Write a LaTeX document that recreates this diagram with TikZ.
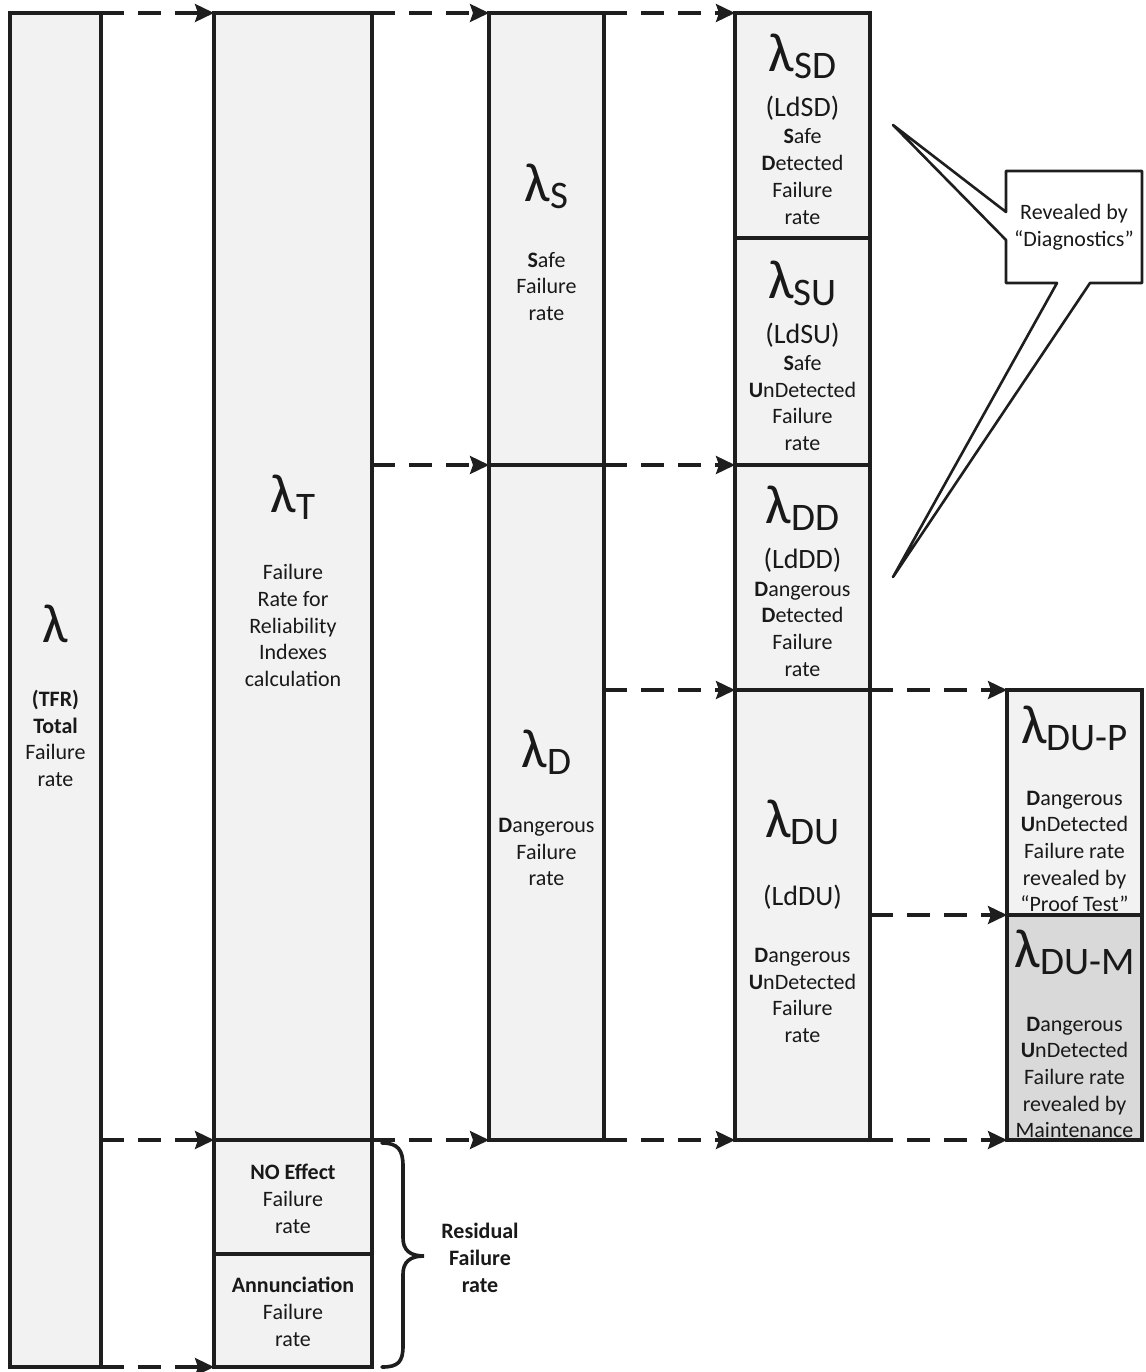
\documentclass[tikz,border=0pt]{standalone}
\usepackage{fontspec}
\setmainfont{Carlito}
\usetikzlibrary{arrows.meta}
\definecolor{linec}{RGB}{30,30,30}
\definecolor{boxfill}{RGB}{242,242,242}
\definecolor{darkfill}{RGB}{217,217,217}
\definecolor{txt}{RGB}{25,25,25}
\newcommand{\biglam}[1]{{\fontsize{55}{60}\selectfont λ}\raisebox{-7pt}{\fontsize{39}{40}\selectfont #1}}
\begin{document}
\begin{tikzpicture}[x=1pt,y=-1pt,
  box/.style={draw=linec, line width=3.2pt, fill=boxfill, rectangle, inner sep=0pt, outer sep=0pt, anchor=north west},
  lam/.style={text=txt, inner sep=0pt, anchor=base},
  body/.style={text=txt, inner sep=0pt, align=center, font=\fontsize{22}{26.7}\selectfont},
  ld/.style={text=txt, inner sep=0pt, font=\fontsize{28}{32}\selectfont},
  darr/.style={draw=linec, line width=3.2pt, dash pattern=on 23pt off 14pt, -{Stealth[length=19pt,width=18pt,inset=3pt]}},
]
\useasboundingbox (0,0) rectangle (1145,1372);
% boxes
\node[box, minimum width=91pt, minimum height=1354pt] (L) at (10,13) {};
\node[box, minimum width=158pt, minimum height=1127pt] (T) at (214,13) {};
\node[box, minimum width=158pt, minimum height=114pt] (NO) at (214,1140) {};
\node[box, minimum width=158pt, minimum height=113pt] (AN) at (214,1254) {};
\node[box, minimum width=115pt, minimum height=452pt] (S) at (489,13) {};
\node[box, minimum width=115pt, minimum height=675pt] (D) at (489,465) {};
\node[box, minimum width=135pt, minimum height=225pt] (SD) at (735,13) {};
\node[box, minimum width=135pt, minimum height=227pt] (SU) at (735,238) {};
\node[box, minimum width=135pt, minimum height=225pt] (DD) at (735,465) {};
\node[box, minimum width=135pt, minimum height=450pt] (DU) at (735,690) {};
\node[box, minimum width=135pt, minimum height=225pt] (DUP) at (1007,690) {};
\node[box, minimum width=135pt, minimum height=225pt, fill=darkfill] (DUM) at (1007,915) {};
% arrows
\draw[darr] (L.north east) -- (T.north west);
\draw[darr] (T.north east) -- (S.north west);
\draw[darr] (S.north east) -- (SD.north west);
\draw[darr] (T.east |- S.south west) -- (S.south west);
\draw[darr] (S.south east) -- (SU.south west);
\draw[darr] (D.east |- DU.north west) -- (DU.north west);
\draw[darr] (DU.north east) -- (DUP.north west);
\draw[darr] (DU.east |- DUM.north west) -- (DUM.north west);
\draw[darr] (L.east |- T.south west) -- (T.south west);
\draw[darr] (T.south east) -- (D.south west);
\draw[darr] (D.south east) -- (DU.south west);
\draw[darr] (DU.south east) -- (DUM.south west);
\draw[darr] (L.south east) -- (AN.south west);
% callout
\draw[draw=linec, line width=2.6pt, fill=white, line join=round] (1006,171) -- (1142,171) -- (1142,283) -- (1090,283) -- (893,577) -- (1057,283) -- (1006,283) -- (1006,240) -- (893,125) -- (1006,212) -- cycle;
\node[body] (rev) at (1074,227.5) {Revealed by\\“Diagnostics”};
% brace
\draw[linec, line width=3.6pt, line cap=round] (382,1143) .. controls (398,1143) and (403,1150) .. (403,1166) -- (403,1238) .. controls (403,1250) and (410,1256) .. (424,1256) .. controls (410,1256) and (403,1262) .. (403,1274) -- (403,1346) .. controls (403,1362) and (398,1367) .. (382,1367);
\node[body] (res) at (480,1258) {\textbf{Residual}\\\textbf{Failure}\\\textbf{rate}};
% texts
\node[lam] (lamL) at (55.5,642) {\fontsize{55}{60}\selectfont λ};
\node[body] (txtL) at (55.5,738.5) {\textbf{(TFR)}\\\textbf{Total}\\Failure\\rate};
\node[lam] (lamT) at (293,512) {\biglam{T}};
\node[body] (txtT) at (293,625.5) {Failure\\Rate for\\Reliability\\Indexes\\calculation};
\node[body] (txtNO) at (293,1199) {\textbf{NO Effect}\\Failure\\rate};
\node[body] (txtAN) at (293,1312) {\textbf{Annunciation}\\Failure\\rate};
\node[lam] (lamS) at (546.5,202) {\biglam{S}};
\node[body] (txtS) at (546.5,286.5) {\textbf{S}afe\\Failure\\rate};
\node[lam] (lamD) at (546.5,767) {\biglam{D}};
\node[body] (txtD) at (546.5,852) {\textbf{D}angerous\\Failure\\rate};
\node[lam] (lamSD) at (802.5,72) {\biglam{SD}};
\node[ld] (ldSD) at (802.5,108) {(LdSD)};
\node[body] (txtSD) at (802.5,176.5) {\textbf{S}afe\\\textbf{D}etected\\Failure\\rate};
\node[lam] (lamSU) at (802.5,298) {\biglam{SU}};
\node[ld] (ldSU) at (802.5,335) {(LdSU)};
\node[body] (txtSU) at (802.5,403) {\textbf{S}afe\\\textbf{U}nDetected\\Failure\\rate};
\node[lam] (lamDD) at (802.5,523) {\biglam{DD}};
\node[ld] (ldDD) at (802.5,560) {(LdDD)};
\node[body] (txtDD) at (802.5,629) {\textbf{D}angerous\\\textbf{D}etected\\Failure\\rate};
\node[lam] (lamDU) at (802.5,837) {\biglam{DU}};
\node[ld] (ldDU) at (802.5,897) {(LdDU)};
\node[body] (txtDU) at (802.5,995.5) {\textbf{D}angerous\\\textbf{U}nDetected\\Failure\\rate};
\node[lam] (lamDUP) at (1074.5,743) {\biglam{DU-P}};
\node[body] (txtDUP) at (1074.5,851.5) {\textbf{D}angerous\\\textbf{U}nDetected\\Failure rate\\revealed by\\“Proof Test”};
\node[lam] (lamDUM) at (1074.5,967) {\biglam{DU-M}};
\node[body] (txtDUM) at (1074.5,1077.5) {\textbf{D}angerous\\\textbf{U}nDetected\\Failure rate\\revealed by\\Maintenance};
\end{tikzpicture}
\end{document}
